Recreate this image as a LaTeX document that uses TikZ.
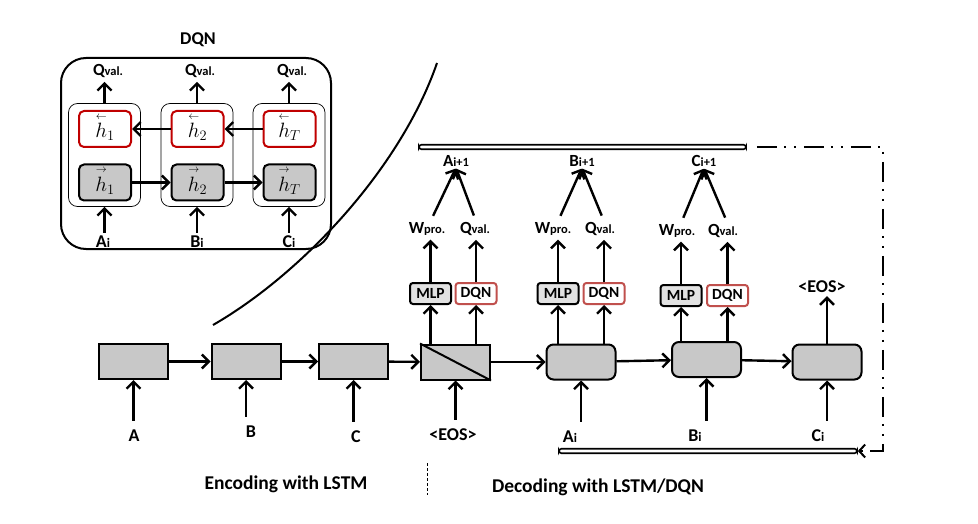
\documentclass[tikz,border=0pt]{standalone}
\usepackage{amsmath}
\usepackage{fontspec}
\setmainfont{Carlito}
\usepackage{xcolor}
\usepackage{tikz}
\usetikzlibrary{arrows.meta}
\definecolor{boxgray}{RGB}{200,200,200}
\definecolor{mlpgray}{RGB}{226,226,226}
\definecolor{hred}{RGB}{192,0,0}
\definecolor{dqnred}{RGB}{192,80,77}
\newcommand{\lo}[1]{{\fontsize{13}{15}\selectfont #1}}
\newcommand{\slo}[1]{{\fontsize{12.5}{14}\selectfont #1}}
\newcommand{\hl}[1]{$\overset{\smash{\scriptscriptstyle\leftarrow}}{h}_{#1}$}
\newcommand{\hr}[1]{$\overset{\smash{\scriptscriptstyle\rightarrow}}{h}_{#1}$}
\tikzstyle{lbl}=[inner sep=1pt, font=\fontsize{18}{21}\selectfont\bfseries]
\tikzstyle{small lbl}=[inner sep=1pt, font=\fontsize{17}{20}\selectfont\bfseries]
\tikzstyle{caption}=[inner sep=1pt, font=\fontsize{19.5}{23}\selectfont\bfseries]
\tikzstyle{lstm}=[draw=black, fill=boxgray, line width=2pt, shape=rectangle, minimum width=69pt, minimum height=35pt, inner sep=0pt]
\tikzstyle{lstm dec}=[lstm, rounded corners=7pt]
\tikzstyle{mlp box}=[draw=black, fill=mlpgray, line width=2pt, rounded corners=3pt, minimum width=41pt, minimum height=21pt, inner sep=0pt, font=\fontsize{15.5}{18}\selectfont\bfseries]
\tikzstyle{dqn box}=[mlp box, draw=dqnred, fill=white]
\tikzstyle{hred box}=[draw=hred, fill=white, line width=2pt, rounded corners=5pt, minimum width=52pt, minimum height=36pt, inner sep=0pt, font=\fontsize{22}{24}\selectfont]
\tikzstyle{hgray box}=[hred box, draw=black, fill=boxgray]
\tikzstyle{cell}=[draw=black, line width=0.7pt, rounded corners=9pt, minimum width=72pt, minimum height=103pt, inner sep=0pt]
\tikzstyle{dqn frame}=[draw=black, line width=2pt, rounded corners=25pt, minimum width=270pt, minimum height=191pt, inner sep=0pt]
\tikzstyle{bar}=[draw=black, fill=white, line width=1.6pt, rounded corners=2.5pt, minimum height=4.5pt, inner sep=0pt]
\tikzstyle{arr}=[line width=2.4pt, -{Straight Barb[length=7pt,width=14pt]}]
\tikzstyle{return line}=[line width=2pt, dash pattern=on 20pt off 7pt on 2pt off 8pt on 2pt off 8pt, -{Straight Barb[length=6pt,width=13pt]}]
\pgfdeclarelayer{nodelayer}
\pgfdeclarelayer{edgelayer}
\pgfsetlayers{nodelayer,edgelayer,main}
\begin{document}
\begin{tikzpicture}[x=1pt, y=-1pt]
	\useasboundingbox (0,0) rectangle (978,524);
	\begin{pgfonlayer}{nodelayer}
		% DQN inset
		\node [style=lbl] (dqnt) at (198,40) {DQN};
		\node [style=dqn frame] (frame) at (196,153.5) {};
		\node [style=cell] (c1) at (104.5,155) {};
		\node [style=cell] (c2) at (197,155) {};
		\node [style=cell] (c3) at (289,155) {};
		\node [style=hred box] (r1) at (105,129) {\hl{1}};
		\node [style=hred box] (r2) at (197.5,129) {\hl{2}};
		\node [style=hred box] (r3) at (289.5,129) {\hl{T}};
		\node [style=hgray box] (g1) at (105,182.5) {\hr{1}};
		\node [style=hgray box] (g2) at (197.5,182.5) {\hr{2}};
		\node [style=hgray box] (g3) at (289.5,182.5) {\hr{T}};
		\node [style=small lbl] (qv1) at (108,71) {Q\slo{val.}};
		\node [style=small lbl] (qv2) at (200,71) {Q\slo{val.}};
		\node [style=small lbl] (qv3) at (292,71) {Q\slo{val.}};
		\node [style=lbl] (in1) at (103,242) {A\lo{i}};
		\node [style=lbl] (in2) at (197,242) {B\lo{i}};
		\node [style=lbl] (in3) at (289,242) {C\lo{i}};
		% LSTM chain
		\node [style=lstm] (b1) at (133.5,361.5) {};
		\node [style=lstm] (b2) at (246,361.5) {};
		\node [style=lstm] (b3) at (353.5,361.5) {};
		\node [style=lstm] (b4) at (455.5,362) {};
		\node [style=lstm dec] (b5) at (581,362) {};
		\node [style=lstm dec] (b6) at (706.5,359.5) {};
		\node [style=lstm dec] (b7) at (827,362) {};
		\node [style=lbl] (x1) at (134,436) {A};
		\node [style=lbl] (x2) at (251,432) {B};
		\node [style=lbl] (x3) at (356,437) {C};
		\node [style=lbl] (x4) at (453,435) {<EOS>};
		\node [style=lbl] (x5) at (570,437) {A\lo{i}};
		\node [style=lbl] (x6) at (695,436) {B\lo{i}};
		\node [style=lbl] (x7) at (818,436) {C\lo{i}};
		\node [style=lbl] (eos) at (822,287) {<EOS>};
		% MLP / DQN heads
		\node [style=mlp box] (m1) at (430.5,293.5) {MLP};
		\node [style=dqn box] (d1) at (476,293.5) {DQN};
		\node [style=mlp box] (m2) at (558,293.5) {MLP};
		\node [style=dqn box] (d2) at (604,293.5) {DQN};
		\node [style=mlp box] (m3) at (681,295.5) {MLP};
		\node [style=dqn box] (d3) at (727.5,295.5) {DQN};
		\node [style=small lbl] (w1) at (427,229) {W\slo{pro.}};
		\node [style=small lbl] (q1) at (475,229) {Q\slo{val.}};
		\node [style=small lbl] (w2) at (553,229) {W\slo{pro.}};
		\node [style=small lbl] (q2) at (600,229) {Q\slo{val.}};
		\node [style=small lbl] (w3) at (677,231) {W\slo{pro.}};
		\node [style=small lbl] (q3) at (723,231) {Q\slo{val.}};
		\node [style=small lbl] (o1) at (456,161) {A\slo{i+1}};
		\node [style=small lbl] (o2) at (582,161) {B\slo{i+1}};
		\node [style=small lbl] (o3) at (704,161) {C\slo{i+1}};
		\node [style=bar, minimum width=327pt] (topbar) at (582.5,147) {};
		\node [style=bar, minimum width=298pt] (botbar) at (708,451) {};
		\node [style=caption] (enc) at (286,484) {Encoding with LSTM};
		\node [style=caption] (dec) at (598,487) {Decoding with LSTM/DQN};
		\coordinate (lp1) at (883,147);
		\coordinate (lp2) at (883,451);
		\coordinate (sep1) at (427,463);
		\coordinate (sep2) at (427,495);
		\coordinate (cv1) at (213,325);
		\coordinate (cv2) at (437,63);
	\end{pgfonlayer}
	\begin{pgfonlayer}{edgelayer}
		% inset connectors
		\foreach \i in {1,2,3} {
			\draw [style=arr, shorten >=3pt] (c\i.north) -- (c\i.north |- qv\i.south);
			\draw [style=arr, shorten <=2pt] (c\i.south |- in\i.north) -- (c\i.south);
		}
		\draw [style=arr] (g1) -- (g2);
		\draw [style=arr] (g2) -- (g3);
		\draw [style=arr] (r3) -- (r2);
		\draw [style=arr] (r2) -- (r1);
		% chain
		\draw [style=arr] (b1) -- (b2);
		\draw [style=arr] (b2) -- (b3);
		\draw [style=arr] (b3) -- (b4);
		\draw [style=arr] (b4) -- (b5);
		\draw [style=arr] (b5) -- (b6);
		\draw [style=arr] (b6) -- (b7);
		\draw [line width=2pt] (b4.north west) -- (b4.south east);
		\foreach \i in {1,...,7}
			\draw [style=arr, shorten <=8pt] (b\i.south |- x\i.north) -- (b\i.south);
		\draw [style=arr, shorten >=2pt] (b7.north) -- (b7.north |- eos.south);
		% heads
		\draw [style=arr] (b4.north -| m1.south) -- (m1.south);
		\draw [style=arr] (b4.north -| d1.south) -- (d1.south);
		\draw [style=arr] (b5.north -| m2.south) -- (m2.south);
		\draw [style=arr] (b5.north -| d2.south) -- (d2.south);
		\draw [style=arr] (b6.north -| m3.south) -- (m3.south);
		\draw [style=arr] (b6.north -| d3.south) -- (d3.south);
		\foreach \i in {1,2,3} {
			\draw [style=arr, shorten >=3pt] (m\i.north) -- (m\i.north |- w\i.south);
			\draw [style=arr, shorten >=3pt] (d\i.north) -- (d\i.north |- q\i.south);
			\draw [style=arr, shorten <=6pt, shorten >=1pt] (m\i.north |- w\i.north) -- (o\i.south);
			\draw [style=arr, shorten <=6pt, shorten >=1pt] (d\i.north |- q\i.north) -- (o\i.south);
		}
		% feedback loop
		\draw [style=return line] ([xshift=10pt]topbar.east) -- (lp1) -- (lp2) -- (botbar.east);
		\draw [dashed, line width=0.8pt, dash pattern=on 3pt off 2pt] (sep1) -- (sep2);
		\draw [line width=2pt] (cv1) .. controls (300,275) and (400,170) .. (cv2);
	\end{pgfonlayer}
\end{tikzpicture}
\end{document}
